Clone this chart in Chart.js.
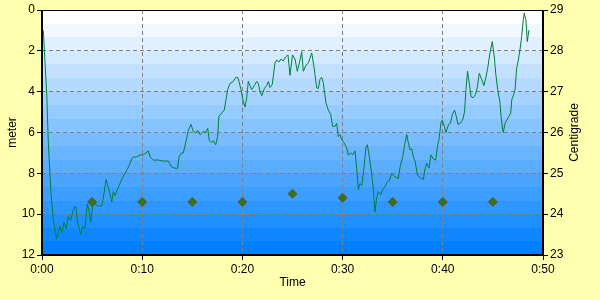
<!DOCTYPE html>
<html>
<head>
<meta charset="utf-8">
<script src="https://cdn.jsdelivr.net/npm/chart.js@4"></script>
<style>
  body { margin: 0; background: #ffffb0; }
  #wrap { width: 600px; height: 300px; }
</style>
</head>
<body>
<div id="wrap"><canvas id="diveChart"></canvas></div>
<script>
// depth track, time in minutes
const depthTime = [0.13,0.47,0.63,0.90,1.13,1.47,1.80,1.97,2.20,2.40,
  2.62,2.86,3.12,3.36,3.56,3.86,4.06,4.29,4.52,4.69,
  4.86,5.06,5.29,5.62,5.96,6.12,6.39,6.62,6.79,6.96,
  7.12,7.29,7.51,7.78,8.05,8.28,8.51,8.71,8.95,9.11,
  9.45,9.78,10.11,10.38,10.61,10.78,11.11,11.61,12.11,12.61,
  12.94,13.27,13.54,13.67,13.94,14.10,14.34,14.60,14.87,15.10,
  15.34,15.54,15.77,16.10,16.34,16.54,16.70,16.94,17.10,17.34,
  17.53,17.66,17.93,18.19,18.36,18.53,18.76,19.09,19.33,19.53,
  19.66,19.86,20.09,20.26,20.43,20.59,20.76,20.93,21.19,21.43,
  21.59,21.76,21.93,22.19,22.42,22.59,22.75,22.98,23.25,23.42,
  23.65,23.85,24.08,24.32,24.55,24.75,25.00,25.25,25.48,25.68,
  25.92,26.08,26.35,26.58,26.92,27.15,27.41,27.57,27.74,27.91,
  28.07,28.34,28.57,28.81,29.01,29.24,29.41,29.57,29.74,29.91,
  30.14,30.41,30.57,30.81,31.01,31.24,31.41,31.57,31.74,31.91,
  32.14,32.34,32.47,32.67,32.90,33.07,33.23,33.40,33.56,33.80,
  34.00,34.23,34.46,34.66,34.90,35.06,35.33,35.56,35.73,36.00,
  36.23,36.40,36.56,36.73,36.90,37.06,37.23,37.49,37.72,38.06,
  38.22,38.39,38.62,38.82,39.05,39.29,39.49,39.62,39.82,39.95,
  40.15,40.32,40.58,40.75,40.97,41.17,41.34,41.51,41.74,41.97,
  42.17,42.31,42.47,42.65,42.82,43.02,43.26,43.44,43.64,43.88,
  44.11,44.28,44.48,44.71,44.94,45.14,45.28,45.48,45.71,45.81,
  45.98,46.04,46.21,46.38,46.61,46.78,46.88,47.04,47.21,47.37,
  47.54,47.70,47.87,48.03,48.13,48.30,48.43,48.60];

const depthM = [1.0,4.1,6.5,9.0,10.3,11.2,10.6,10.9,10.4,10.7,
  10.1,10.3,9.8,9.6,10.4,11.0,10.6,10.7,9.5,9.8,
  10.4,9.6,9.5,9.6,9.6,9.2,8.3,8.7,9.0,9.4,
  8.9,9.1,8.8,8.5,8.2,8.0,7.8,7.6,7.3,7.2,
  7.2,7.1,7.1,7.0,6.9,7.2,7.35,7.35,7.4,7.4,
  7.7,7.75,7.75,7.2,7.0,7.0,6.5,5.9,5.6,5.95,
  6.0,5.9,6.1,5.95,6.0,5.8,6.4,6.5,6.4,6.6,
  6.2,5.2,5.05,4.9,4.4,3.9,3.6,3.5,3.3,3.3,
  3.5,3.9,4.5,4.75,4.3,3.5,3.7,3.9,3.7,3.5,
  3.6,4.0,4.2,3.85,3.7,3.5,3.8,3.65,2.6,2.45,
  2.55,2.4,2.5,2.3,2.2,3.2,2.2,2.4,3.0,2.6,
  2.05,3.0,2.7,2.6,2.1,2.8,3.8,3.85,3.4,3.3,
  3.55,4.55,4.9,5.1,5.7,5.7,5.55,6.2,6.1,6.35,
  6.5,6.75,7.1,7.0,7.1,6.9,7.8,8.8,8.5,8.6,
  7.7,6.7,6.6,7.2,8.0,8.8,9.9,9.2,8.9,9.05,
  8.8,8.65,8.4,8.35,8.0,8.1,8.2,8.25,7.7,7.2,
  6.5,6.1,6.5,6.85,6.8,7.2,7.4,8.1,8.2,8.3,
  7.8,7.5,7.75,7.1,7.3,7.35,6.6,6.35,5.5,5.4,
  5.7,6.0,5.6,5.55,5.1,4.9,5.2,5.6,5.55,5.4,
  5.0,3.9,3.0,3.6,4.25,4.3,4.15,3.8,3.1,3.4,
  3.7,3.35,2.85,2.1,1.55,2.3,3.1,3.9,4.55,5.2,
  5.9,6.0,5.55,5.4,5.2,5.05,4.4,4.2,3.9,2.85,
  2.45,1.95,1.3,0.5,0.15,0.5,1.55,0.98];

// water temperature samples
const tempTime = [5, 10, 15, 20, 25, 30, 35, 40, 45];
const tempC = [24.3, 24.3, 24.3, 24.3, 24.5, 24.4, 24.3, 24.3, 24.3];

const timeTicks = [0, 10, 20, 30, 40, 50];

const tickFont = { family: 'Liberation Sans, Arial, sans-serif', size: 12 };

function fmtTime(v) {
  const m = Math.round(v);
  return Math.floor(m / 60) + ':' + String(m % 60).padStart(2, '0');
}

// banded sky-to-water backdrop plus the black frame
const diveFrame = {
  id: 'diveFrame',
  beforeDraw(chart) {
    const { ctx, chartArea: a } = chart;
    ctx.save();
    ctx.fillStyle = '#ffffb0';
    ctx.fillRect(0, 0, chart.width, chart.height);
    const n = 18;
    const h = (a.bottom - a.top) / n;
    for (let i = 0; i < n; i++) {
      const f = i / (n - 1);
      const r = Math.round(255 * (1 - f));
      const g = Math.round(255 - 127 * f);
      ctx.fillStyle = `rgb(${r},${g},255)`;
      const y0 = Math.round(a.top + i * h);
      const y1 = Math.round(a.top + (i + 1) * h);
      ctx.fillRect(a.left, y0, a.right - a.left, y1 - y0);
    }
    ctx.restore();
  },
  afterDatasetsDraw(chart) {
    const { ctx, chartArea: a } = chart;
    ctx.save();
    ctx.strokeStyle = '#000';
    ctx.lineWidth = 1;
    ctx.beginPath();
    ctx.moveTo(a.left, a.top + 0.5);
    ctx.lineTo(a.right, a.top + 0.5);
    ctx.stroke();
    ctx.lineWidth = 2;
    ctx.beginPath();
    ctx.moveTo(a.left, a.top);
    ctx.lineTo(a.left, a.bottom);
    ctx.lineTo(a.right, a.bottom);
    ctx.lineTo(a.right, a.top);
    ctx.stroke();
    ctx.restore();
  },
  afterDraw(chart) {
    const { ctx, chartArea: a } = chart;
    ctx.save();
    ctx.fillStyle = '#000';
    ctx.font = '12px Liberation Sans, Arial, sans-serif';
    ctx.textAlign = 'center';
    ctx.textBaseline = 'middle';
    ctx.translate(575, (a.top + a.bottom) / 2);
    ctx.rotate(-Math.PI / 2);
    ctx.fillText('Centigrade', 0, 0);
    ctx.restore();
  }
};

new Chart(document.getElementById('diveChart'), {
  type: 'line',
  data: {
    datasets: [{
      label: 'Depth',
      data: depthTime.map((t, i) => ({ x: t, y: depthM[i] })),
      yAxisID: 'y',
      borderColor: '#00803a',
      borderWidth: 1,
      pointRadius: 0,
      tension: 0,
      fill: false
    }, {
      label: 'Temperature',
      data: tempTime.map((t, i) => ({ x: t, y: tempC[i] })),
      yAxisID: 'y1',
      showLine: false,
      pointStyle: 'rectRot',
      pointRadius: 4.5,
      pointBackgroundColor: '#2b7a12',
      pointBorderColor: '#8b3a3a',
      pointBorderWidth: 1
    }]
  },
  options: {
    responsive: true,
    maintainAspectRatio: false,
    animation: false,
    layout: { padding: { top: 10, left: 0, right: 0, bottom: 0 } },
    plugins: { legend: { display: false }, tooltip: { enabled: false } },
    scales: {
      x: {
        type: 'linear',
        min: 0,
        max: 50,
        afterBuildTicks: s => { s.ticks = timeTicks.map(v => ({ value: v })); },
        afterFit: s => { s.height = 45; },
        ticks: { color: '#000', font: tickFont, padding: 2, maxRotation: 0, callback: fmtTime },
        grid: { color: '#808080', tickColor: '#000', tickLength: 5 },
        border: { display: false, dash: [4, 3] },
        title: { display: true, text: 'Time', color: '#000', font: tickFont, padding: { top: 4, bottom: 10 } }
      },
      y: {
        position: 'left',
        reverse: true,
        min: 0,
        max: 12,
        afterFit: s => { s.width = 42; },
        ticks: { stepSize: 2, color: '#000', font: tickFont, padding: 2 },
        grid: { color: '#808080', tickColor: '#000', tickLength: 5 },
        border: { display: false, dash: [4, 3] },
        title: { display: true, text: 'meter', color: '#000', font: tickFont, padding: { top: 5, bottom: 0 } }
      },
      y1: {
        position: 'right',
        min: 23,
        max: 29,
        afterFit: s => { s.width = 57; },
        ticks: { stepSize: 1, color: '#000', font: tickFont, padding: 2 },
        grid: { drawOnChartArea: false, tickColor: '#000', tickLength: 5 },
        border: { display: false }
      }
    }
  },
  plugins: [diveFrame]
});
</script>
</body>
</html>
